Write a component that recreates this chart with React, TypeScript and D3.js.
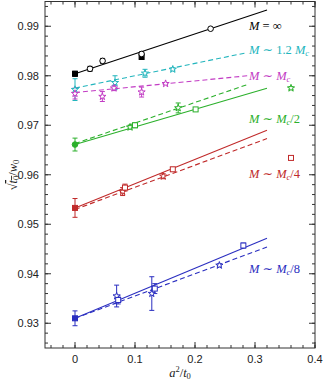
import React from "react";
import * as d3 from "d3";

// ---- data ----
const xTicks = [0, 0.1, 0.2, 0.3, 0.4];
const yTicks = [0.93, 0.94, 0.95, 0.96, 0.97, 0.98, 0.99];

const seriesNames = ["inf", "c12", "c1", "c2", "c4", "c8"];
const seriesColors = ["#000000", "#22b5bd", "#c23bc4", "#2bb02b", "#c02a2a", "#2a2ec0"];
const seriesLabels = ["M = ∞", "M ∼ 1.2 Mc", "M ∼ Mc", "M ∼ Mc/2", "M ∼ Mc/4", "M ∼ Mc/8"];
const labelY = [0.99, 0.9852, 0.98, 0.9713, 0.9602, 0.941];

// fit lines: series index, x end, intercept, slope, dashed
const lineSeries = [0, 1, 2, 3, 3, 4, 4, 5, 5];
const lineXEnd = [0.32, 0.287, 0.287, 0.32, 0.287, 0.32, 0.32, 0.32, 0.32];
const lineIntercept = [0.9804, 0.9775, 0.9766, 0.9661, 0.9663, 0.9533, 0.953, 0.931, 0.931];
const lineSlope = [0.0403, 0.025, 0.0118, 0.0356, 0.0415, 0.049, 0.0447, 0.0506, 0.045];
const lineDashed = [false, true, true, false, true, false, true, false, true];

// points: series index, x, y, error, shape
const ptSeries = [0, 0, 0, 0, 0, 0,
  1, 1, 1, 1,
  2, 2, 2, 2, 2,
  3, 3, 3, 3, 3, 3,
  4, 4, 4, 4, 4, 4,
  5, 5, 5, 5, 5, 5, 5];
const ptX = [0, 0.025, 0.046, 0.111, 0.111, 0.226,
  0, 0.0667, 0.1167, 0.163,
  0, 0.0456, 0.065, 0.111, 0.151,
  0, 0.0917, 0.1, 0.172, 0.201, 0.36,
  0, 0.0794, 0.0833, 0.147, 0.163, 0.36,
  0, 0.0694, 0.072, 0.128, 0.133, 0.2406, 0.2806];
const ptY = [0.9804, 0.9814, 0.983, 0.9838, 0.9844, 0.9895,
  0.9772, 0.9786, 0.9805, 0.9813,
  0.9764, 0.9758, 0.9775, 0.9767, 0.9784,
  0.9661, 0.9696, 0.97, 0.9735, 0.9732, 0.9775,
  0.9533, 0.9566, 0.9574, 0.9597, 0.9611, 0.9634,
  0.931, 0.9355, 0.9347, 0.936, 0.937, 0.9417, 0.9457];
const ptErr = [0.0005, 0.0005, 0.0005, 0.0005, 0.0004, 0.0002,
  0.0022, 0.0014, 0.0008, 0.0003,
  0.0011, 0.001, 0.0005, 0.001, 0.0002,
  0.0013, 0.0004, 0.0005, 0.001, 0.0003, 0.0003,
  0.0019, 0.0008, 0.0007, 0.0005, 0.0004, 0.0002,
  0.0015, 0.0022, 0.0008, 0.0034, 0.001, 0.0003, 0.0005];
const ptShape = ["fsquare", "circle", "circle", "fsquare", "circle", "circle",
  "star", "star", "star", "star",
  "star", "star", "star", "star", "star",
  "fcircle", "star", "square", "star", "square", "star",
  "fsquare", "star", "square", "star", "square", "square",
  "fsquare", "star", "square", "star", "square", "star", "square"];

const W = 325, H = 381;
const L = 45, R = 315, T = 1.5, B = 348;

export default function App() {
  const x = d3.scaleLinear().domain([-0.05, 0.4]).range([L, R]);
  const y = d3.scaleLinear().domain([0.925, 0.995]).range([B, T]);
  const xMinor = d3.range(-0.04, 0.4001, 0.02);
  const yMinor = d3.range(0.926, 0.995, 0.002);
  const axisColor = "#333";
  const tickFont = "'Liberation Sans', Arial, sans-serif";
  const serif = "'Liberation Serif', 'DejaVu Serif', serif";

  const star = d3.symbol().type(d3.symbolStar).size(16)();

  const marker = (shape: string, cx: number, cy: number, color: string, key: string) => {
    const s = 2.5;
    if (shape === "fsquare" || shape === "square")
      return <rect key={key} x={cx - s} y={cy - s} width={2 * s} height={2 * s}
        fill={shape === "fsquare" ? color : "white"} stroke={color} strokeWidth={1} />;
    if (shape === "circle" || shape === "fcircle")
      return <circle key={key} cx={cx} cy={cy} r={2.8}
        fill={shape === "fcircle" ? color : "white"} stroke={color} strokeWidth={1} />;
    return <path key={key} d={star as string} transform={`translate(${cx},${cy})`}
      fill="white" stroke={color} strokeWidth={1} />;
  };

  return (
    <div style={{ position: "absolute", left: 0, top: 0 }}>
      <svg width={W} height={H} style={{ display: "block" }}>
        <rect x={0} y={0} width={W} height={H} fill="white" />
        {/* fit lines */}
        {lineSeries.map((si, i) => (
          <line key={"l" + i} x1={x(0)} y1={y(lineIntercept[i])}
            x2={x(lineXEnd[i])} y2={y(lineIntercept[i] + lineSlope[i] * lineXEnd[i])}
            stroke={seriesColors[si]} strokeWidth={1.1}
            strokeDasharray={lineDashed[i] ? "5,3" : undefined} />
        ))}
        {/* error bars */}
        {ptSeries.map((si, i) => {
          const cx = x(ptX[i]);
          const y1 = y(ptY[i] - ptErr[i]);
          const y2 = y(ptY[i] + ptErr[i]);
          const c = seriesColors[si];
          return (
            <g key={"e" + i} stroke={c} strokeWidth={1}>
              <line x1={cx} x2={cx} y1={y1} y2={y2} />
              <line x1={cx - 2.5} x2={cx + 2.5} y1={y1} y2={y1} />
              <line x1={cx - 2.5} x2={cx + 2.5} y1={y2} y2={y2} />
            </g>
          );
        })}
        {/* markers */}
        {ptSeries.map((si, i) => marker(ptShape[i], x(ptX[i]), y(ptY[i]), seriesColors[si], "m" + i))}
        {/* labels */}
        {seriesLabels.map((lab, i) => {
          const parts = lab.split("Mc");
          return (
            <text key={"t" + i} x={249} y={y(labelY[i]) + 4} fill={seriesColors[i]}
              fontFamily={serif} fontSize={12.5}>
              <tspan fontStyle="italic">M</tspan>
              <tspan>{parts[0].slice(1)}</tspan>
              {parts.length > 1 && (
                <>
                  <tspan fontStyle="italic">M</tspan>
                  <tspan fontStyle="italic" fontSize={8.5} dy={2}>c</tspan>
                  <tspan dy={-2}>{parts[1]}</tspan>
                </>
              )}
            </text>
          );
        })}
        {/* frame */}
        <rect x={L} y={T} width={R - L} height={B - T} fill="none" stroke={axisColor} strokeWidth={1} />
        {/* ticks */}
        <g stroke={axisColor} strokeWidth={1}>
          {xMinor.map((v, i) => (
            <g key={"xm" + i}>
              <line x1={x(v)} x2={x(v)} y1={B} y2={B - 3} />
              <line x1={x(v)} x2={x(v)} y1={T} y2={T + 3} />
            </g>
          ))}
          {xTicks.map((v, i) => (
            <g key={"xM" + i}>
              <line x1={x(v)} x2={x(v)} y1={B} y2={B - 6} />
              <line x1={x(v)} x2={x(v)} y1={T} y2={T + 6} />
            </g>
          ))}
          {yMinor.map((v, i) => (
            <g key={"ym" + i}>
              <line x1={L} x2={L + 3} y1={y(v)} y2={y(v)} />
              <line x1={R} x2={R - 3} y1={y(v)} y2={y(v)} />
            </g>
          ))}
          {yTicks.map((v, i) => (
            <g key={"yM" + i}>
              <line x1={L} x2={L + 6} y1={y(v)} y2={y(v)} />
              <line x1={R} x2={R - 6} y1={y(v)} y2={y(v)} />
            </g>
          ))}
        </g>
        {/* tick labels */}
        {xTicks.map((v, i) => (
          <text key={"xt" + i} x={x(v)} y={B + 15} textAnchor="middle" fontFamily={tickFont}
            fontSize={11} fill="#222">{v === 0 ? "0" : d3.format(".1f")(v)}</text>
        ))}
        {yTicks.map((v, i) => (
          <text key={"yt" + i} x={39} y={y(v) + 4} textAnchor="end" fontFamily={tickFont}
            fontSize={11} fill="#222">{d3.format(".2f")(v)}</text>
        ))}
        {/* axis titles */}
        <text x={180} y={377} textAnchor="middle" fontFamily={serif} fontSize={12.5} fill="#222">
          <tspan fontStyle="italic">a</tspan>
          <tspan fontSize={8.5} dy={-5}>2</tspan>
          <tspan dy={5}>/</tspan>
          <tspan fontStyle="italic">t</tspan>
          <tspan fontSize={8.5} dy={2}>0</tspan>
        </text>
        <g transform="translate(17,175) rotate(-90)">
          <text x={0} y={0} textAnchor="middle" fontFamily={serif} fontSize={12.5} fill="#222">
            <tspan>√</tspan>
            <tspan fontStyle="italic" textDecoration="overline">t</tspan>
            <tspan fontSize={8.5} dy={2} textDecoration="overline">0</tspan>
            <tspan dy={-2}>/</tspan>
            <tspan fontStyle="italic">w</tspan>
            <tspan fontSize={8.5} dy={2}>0</tspan>
          </text>
        </g>
      </svg>
    </div>
  );
}
